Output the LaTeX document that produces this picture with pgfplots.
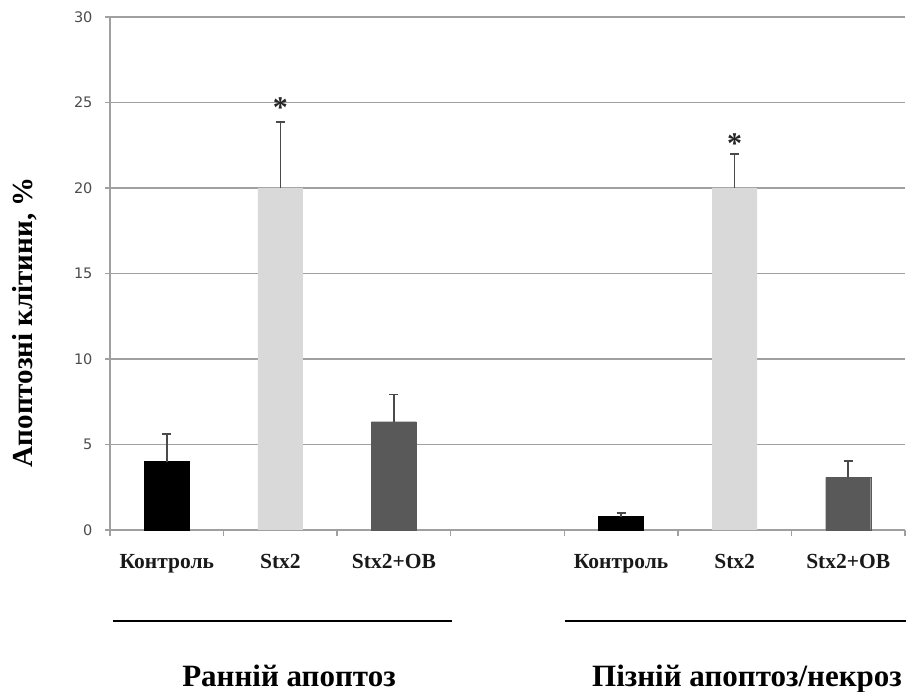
\documentclass[border=0pt]{standalone}
\usepackage{pgfplots}
\pgfplotsset{compat=1.18}
\usepackage{fontspec}
\setmainfont{Liberation Serif}
\newfontfamily\tickfont{DejaVu Sans}
\definecolor{lgray}{HTML}{D9D9D9}
\definecolor{dgray}{HTML}{595959}
\definecolor{errgray}{HTML}{4A4A4A}
\definecolor{gridgray}{HTML}{A0A0A0}
\begin{document}
\begin{tikzpicture}
\useasboundingbox (0pt,0pt) rectangle (906pt,692pt);
\begin{axis}[
  at={(110pt,162pt)}, anchor=south west,
  scale only axis, width=795pt, height=513pt,
  xmin=-0.5, xmax=6.5, ymin=0, ymax=30,
  clip=false,
  axis x line*=bottom, axis y line*=left,
  axis line style={gridgray, line width=1.5pt, -},
  ytick={0,5,...,30},
  ymajorgrids, grid style={gridgray, line width=1.5pt},
  xtick={0,1,2,4,5,6},
  xticklabels={Контроль, Stx2, Stx2+OB, Контроль, Stx2, Stx2+OB},
  minor xtick={-0.5,0.5,...,6.5},
  tick align=outside,
  major tick length=5pt, minor tick length=6pt,
  major x tick style={draw=none},
  tick style={gridgray, line width=1.5pt},
  /pgf/number format/assume math mode=true,
  yticklabel style={font=\tickfont\fontsize{14.5}{14.5}\selectfont, text=black!70, xshift=-9pt},
  xticklabel style={font=\bfseries\fontsize{21.5}{21.5}\selectfont, text=black!90, anchor=base, yshift=-34pt},
  ylabel={Апоптозні клітини, \%},
  every axis y label/.style={at={(axis description cs:-0.107,0.405)}, rotate=90, anchor=center, font=\bfseries\fontsize{29}{29}\selectfont},
  ybar, bar width=45pt,
]
\addplot[ybar, bar shift=0pt, fill=black, draw=black,
  error bars/.cd, y dir=plus, y explicit,
  error bar style={errgray, line width=1.6pt},
  error mark options={rotate=90, mark size=4.5pt, line width=1.6pt, errgray}]
  coordinates {(0,4.0) +- (0,1.6) (4,0.78) +- (0,0.23)};
\addplot[ybar, bar shift=0pt, fill=lgray, draw=none,
  error bars/.cd, y dir=plus, y explicit,
  error bar style={errgray, line width=1.6pt},
  error mark options={rotate=90, mark size=4.5pt, line width=1.6pt, errgray}]
  coordinates {(1,20.0) +- (0,3.85) (5,20.0) +- (0,2.0)};
\addplot[ybar, bar shift=0pt, fill=dgray, draw=dgray,
  error bars/.cd, y dir=plus, y explicit,
  error bar style={errgray, line width=1.6pt},
  error mark options={rotate=90, mark size=4.5pt, line width=1.6pt, errgray}]
  coordinates {(2,6.33) +- (0,1.6) (6,3.08) +- (0,0.95)};
\node[font=\bfseries\fontsize{30}{30}\selectfont, text=black!85, inner sep=0pt] at (axis cs:1,24.7) {*};
\node[font=\bfseries\fontsize{30}{30}\selectfont, text=black!85, inner sep=0pt] at (axis cs:5,22.6) {*};
\end{axis}
\draw[line width=2pt] (113pt,71pt) -- (452pt,71pt);
\draw[line width=2pt] (565pt,71pt) -- (906pt,71pt);
\node[anchor=base, inner sep=0pt, font=\bfseries\fontsize{31}{31}\selectfont] at (289pt,5pt) {Ранній апоптоз};
\node[anchor=base, inner sep=0pt, font=\bfseries\fontsize{31}{31}\selectfont] at (747pt,5pt) {Пізній апоптоз/некроз};
\end{tikzpicture}
\end{document}
